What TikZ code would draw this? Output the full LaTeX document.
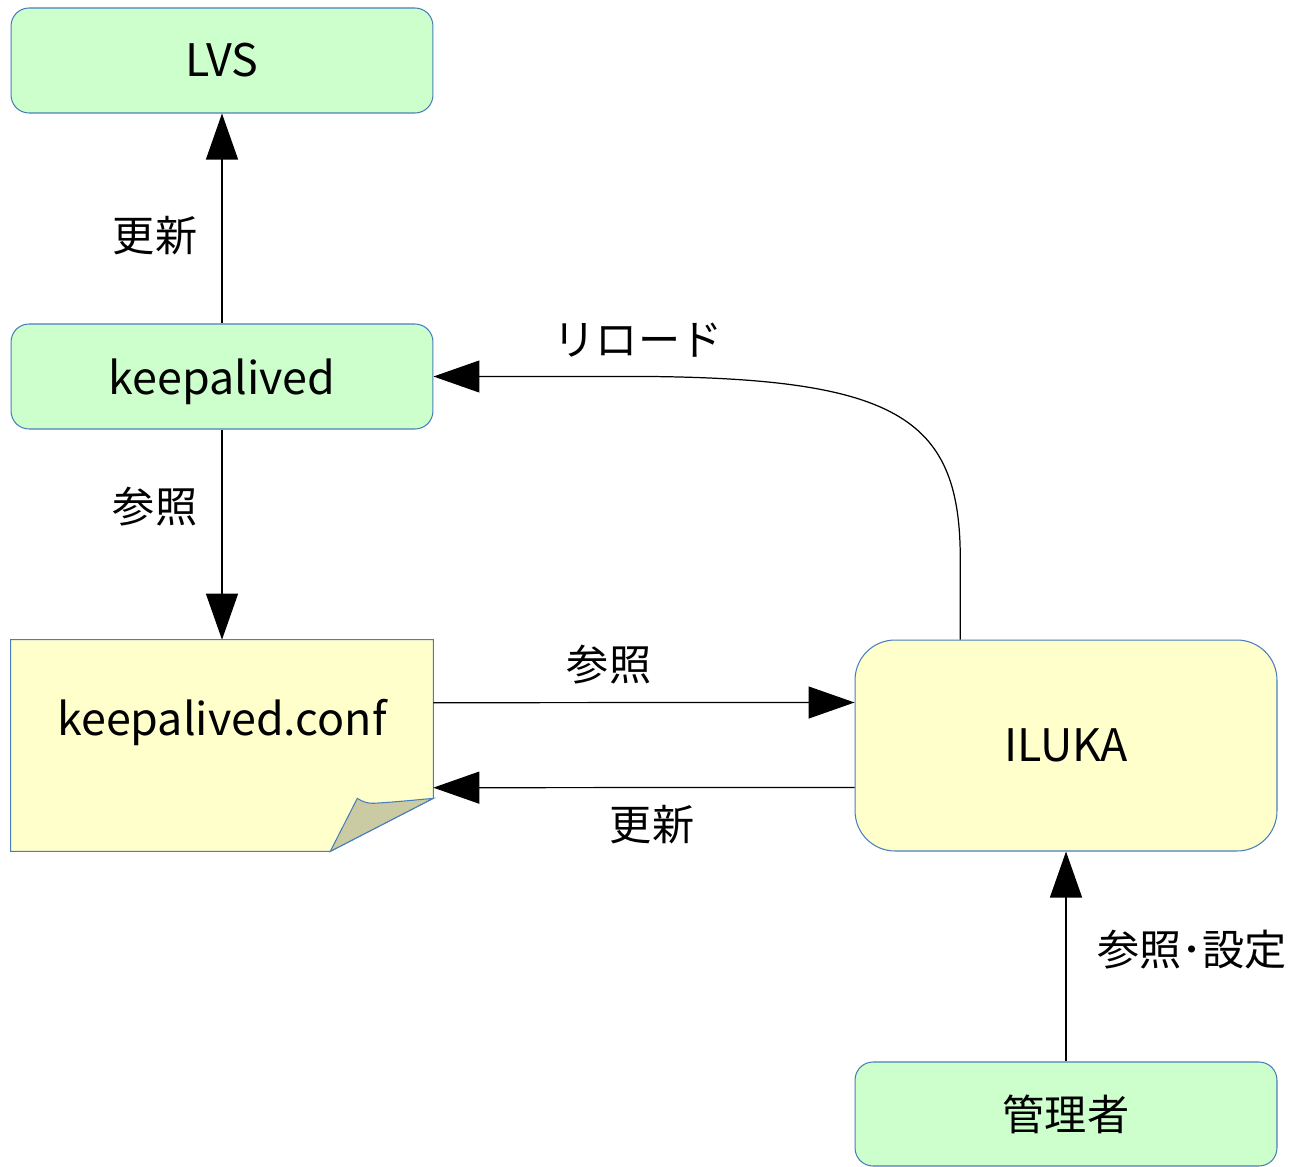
\documentclass[tikz,border=0pt]{standalone}
\usepackage{fontspec}
\setmainfont{Noto Sans CJK JP}
\usetikzlibrary{arrows.meta,calc}
\definecolor{boxgreen}{HTML}{CCFFCC}
\definecolor{boxyellow}{HTML}{FFFFCC}
\definecolor{edgeblue}{HTML}{4A7EBB}
\definecolor{foldcol}{HTML}{CBCBA3}
\begin{document}
\begin{tikzpicture}[x=0.02cm,y=-0.02cm,
  every node/.style={font=\fontsize{24}{28}\selectfont, inner sep=0pt},
  latin/.style={font=\fontsize{25.5}{30}\selectfont},
  greenbox/.style={draw=edgeblue, fill=boxgreen, line width=0.6pt, rounded corners=0.36cm,
    minimum width=8.44cm, minimum height=2.1cm},
  notebox/.style={draw=none, minimum width=8.44cm, minimum height=4.22cm},
  ilukabox/.style={draw=edgeblue, fill=boxyellow, line width=0.6pt, rounded corners=0.8cm,
    minimum width=8.44cm, minimum height=4.22cm},
  conn/.style={line width=0.7pt, -{Triangle[length=0.92cm,width=0.64cm]}},
  lbl/.style={}]
\useasboundingbox (0,0) rectangle (1297,1166);

% boxes
\node[greenbox, latin] (lvs) at (222,60.5) {LVS};
\node[greenbox, latin, text depth=0pt] (keep) at (222,376.5) {keepalived};
\node[notebox] (conf) at (222,745.5) {};
\node[ilukabox, latin] (iluka) at (1066,745.5) {ILUKA};
\node[greenbox, minimum height=2.08cm] (admin) at (1066,1114) {管理者};

% note outline with folded corner
\coordinate (fa) at ($(conf.south east)+(0,-53)$);
\coordinate (fb) at ($(conf.south east)+(-103,0)$);
\coordinate (fc) at ($(conf.south east)+(-76,-53)$);
\draw[edgeblue, fill=boxyellow, line width=0.6pt]
  (conf.north west) -- (conf.north east) -- (fa) -- (fb) -- (conf.south west) -- cycle;
\draw[edgeblue, fill=foldcol, line width=0.6pt]
  (fb) -- (fc) .. controls (363,802) and (368,804) .. (378,803)
  .. controls (395,802) and (415,800) .. (fa) -- cycle;
\node[latin] (conftext) at (222,722) {keepalived.conf};

% connectors
\draw[conn] (keep.north) -- (lvs.south);
\draw[conn] (keep.south) -- (conf.north);
\draw[conn] ($(conf.north east)+(0,63)$) -- ($(iluka.north west)+(0,63)$);
\draw[conn] ($(iluka.north west)+(0,148)$) -- ($(conf.north east)+(0,148)$);
\coordinate (rs) at ($(iluka.north west)!0.25!(iluka.north east)$);
\draw[conn] (rs) -- ($(rs)+(0,-80)$) .. controls (960.5,420) and (900,379) .. (650,376.5) -- (keep.east);
\draw[conn] (admin.north) -- (iluka.south);

% labels
\node[lbl] (l1) at (155,236) {更新};
\node[lbl] (l2) at (155,507) {参照};
\node[lbl] (l3) at (609,665) {参照};
\node[lbl] (l4) at (652,825) {更新};
\node[lbl] (l5) at (638,340) {リロード};
\node[lbl] (l6) at (1192,950) {参照･設定};
\end{tikzpicture}
\end{document}
